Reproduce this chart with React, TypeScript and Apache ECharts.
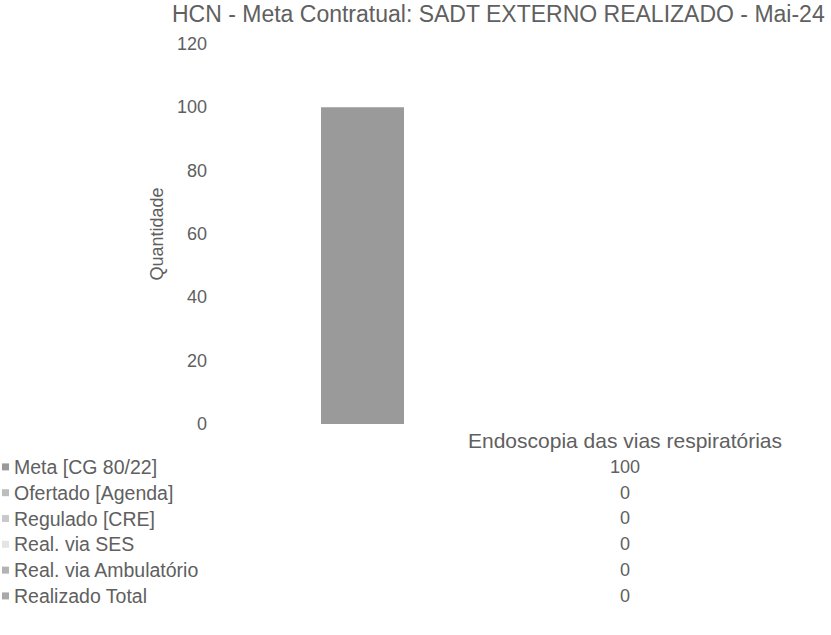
import React, { useEffect, useRef } from "react";
import * as echarts from "echarts";

const titleText = "HCN - Meta Contratual: SADT EXTERNO REALIZADO - Mai-24";
const categories = ["Endoscopia das vias respiratórias"];
const seriesNames = [
  "Meta [CG 80/22]",
  "Ofertado [Agenda]",
  "Regulado [CRE]",
  "Real. via SES",
  "Real. via Ambulatório",
  "Realizado Total",
];
const metaValues = [100];
const ofertadoValues = [0];
const reguladoValues = [0];
const sesValues = [0];
const ambulatorioValues = [0];
const totalValues = [0];
const seriesColors = ["#9a9a9a", "#bdbdbd", "#c9c9c9", "#e4e4e4", "#b3b3b3", "#a9a9a9"];
const yTicks = { min: 0, max: 120, interval: 20 };

const FONT = "'Liberation Sans', Arial, sans-serif";
const TEXT = "#606060";

export default function App() {
  const ref = useRef<HTMLDivElement>(null);
  useEffect(() => {
    if (!ref.current) return;
    const chart = echarts.init(ref.current, undefined, { renderer: "svg" });
    const allValues = [metaValues, ofertadoValues, reguladoValues, sesValues, ambulatorioValues, totalValues];
    chart.setOption({
      animation: false,
      backgroundColor: "#ffffff",
      title: {
        text: titleText,
        left: 167,
        top: -3,
        textStyle: { fontFamily: FONT, fontSize: 23, fontWeight: "normal", color: TEXT },
      },
      legend: {
        orient: "vertical",
        left: 2,
        top: 454,
        padding: 0,
        itemGap: 0,
        itemWidth: 7,
        itemHeight: 7,
        icon: "rect",
        data: seriesNames,
        textStyle: { fontFamily: FONT, fontSize: 19.5, color: TEXT, lineHeight: 25.8 },
      },
      grid: { left: 215, top: 44, height: 380, width: 820, outerBoundsMode: "none", containLabel: false },
      xAxis: {
        type: "category",
        data: categories,
        axisLine: { show: false },
        axisTick: { show: false },
        axisLabel: {
          margin: 4,
          fontFamily: FONT,
          fontSize: 18,
          color: TEXT,
          lineHeight: 25.8,
          formatter: (v: string, i: number) =>
            [`{h|${v}}`, ...allValues.map((arr) => `{v|${arr[i]}}`)].join("\n"),
          rich: {
            h: { fontFamily: FONT, fontSize: 21, color: TEXT, lineHeight: 25.8 },
            v: { fontFamily: FONT, fontSize: 18, color: TEXT, lineHeight: 25.8 },
          },
        },
      },
      yAxis: {
        type: "value",
        min: yTicks.min,
        max: yTicks.max,
        interval: yTicks.interval,
        name: "Quantidade",
        nameLocation: "middle",
        nameGap: 48,
        nameTextStyle: { fontFamily: FONT, fontSize: 18, color: TEXT },
        axisLine: { show: false },
        axisTick: { show: false },
        splitLine: { show: false },
        axisLabel: { margin: 8, fontFamily: FONT, fontSize: 18, color: TEXT },
      },
      series: seriesNames.map((name, k) => ({
        type: "bar",
        name,
        data: allValues[k],
        barWidth: 83,
        barGap: "26.5%",
        itemStyle: { color: seriesColors[k] },
      })),
    });
    return () => chart.dispose();
  }, []);
  return (
    <div
      ref={ref}
      style={{ position: "fixed", left: 0, top: 0, width: 831, height: 635, background: "#fff" }}
    />
  );
}
